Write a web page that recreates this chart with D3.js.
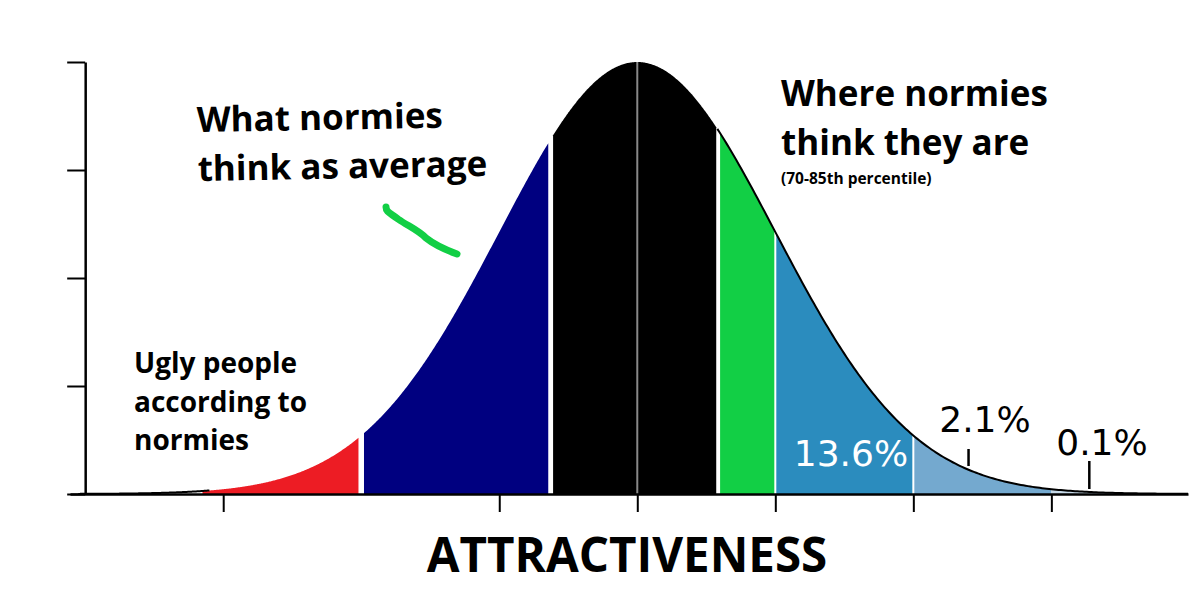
<!DOCTYPE html>
<html><head><meta charset="utf-8">
<script src="https://cdn.jsdelivr.net/npm/d3@7"></script>
<style>body{margin:0;background:#fff}svg{display:block}</style>
</head><body>
<svg id="c" width="1200" height="600"></svg>
<script>
// ---- data ----
const zDomain = [-4.11, 3.99];                 // x in standard deviations
const bandStarts = [-3.15, -1.98, -0.61, 0.60, 1.00, 2.00, 3.00];
const bandEnds   = [-2.02, -0.645, 0.572, 1.00, 2.00, 3.00, 3.6];
const bandNames  = ["ugly","average","normal","think","sd1","sd2","sd3"];
const xTicks = [-3, -1, 0, 1, 2, 3];
const yTicks = [0, 0.25, 0.5, 0.75, 1];
const pctLabels = ["13.6%", "2.1%", "0.1%"];
const pctZ = [1.5, 2.4, 3.275];
const annot1 = ["What normies", "think as average"];
const annot2 = ["Where normies", "think they are"];
const annot2b = "(70-85th percentile)";
const annot3 = ["Ugly people", "according to", "normies"];
const xTitle = "ATTRACTIVENESS";

// ---- styles ----
const bandColors = ["#ed1c24","#000080","#000000","#12cf45","#2b8cbe","#74a9cf","#c6d9e8"];

const svg = d3.select("#c");
const x = d3.scaleLinear().domain(zDomain).range([70, 1188]);
const y = d3.scaleLinear().domain([0, 1]).range([494, 62]);
const dens = z => Math.exp(-z*z/2);

function pts(a, b, n=200){ return d3.range(n+1).map(i => a + (b-a)*i/n); }

const area = d3.area().x(z => x(z)).y0(y(0)).y1(z => y(dens(z)));
const line = d3.line().x(z => x(z)).y(z => y(dens(z)));

// bands
bandStarts.forEach((s, i) => {
  svg.append("path").attr("d", area(pts(s, bandEnds[i])))
    .attr("fill", bandColors[i]);
});
// white separators
[1.0, 2.0].forEach(z => {
  svg.append("line").attr("x1", x(z)).attr("x2", x(z))
    .attr("y1", y(dens(z))).attr("y2", y(0)).attr("stroke", "#fff").attr("stroke-width", 2);
});
// center grey line
svg.append("line").attr("x1", x(0)).attr("x2", x(0)).attr("y1", y(1)).attr("y2", y(0))
  .attr("stroke", "#888").attr("stroke-width", 2);

// curve outline
svg.append("path").attr("d", line(pts(-4.05, -3.1))).attr("fill", "none")
  .attr("stroke", "#000").attr("stroke-width", 2);
svg.append("path").attr("d", line(pts(0.58, 3.99))).attr("fill", "none")
  .attr("stroke", "#000").attr("stroke-width", 2);

// x axis
const xAxis = d3.axisBottom(x).tickValues(xTicks).tickFormat("").tickSize(18).tickSizeOuter(0);
const gx = svg.append("g").attr("transform", `translate(0,${y(0)})`).call(xAxis);
gx.select(".domain").attr("stroke", "#000").attr("stroke-width", 2.5);
gx.selectAll(".tick line").attr("stroke", "#000").attr("stroke-width", 2);

// y axis
const yAxis = d3.axisLeft(y).tickValues(yTicks).tickFormat("").tickSize(18).tickSizeOuter(0);
const gy = svg.append("g").attr("transform", `translate(${x(-4)},0)`).call(yAxis);
gy.select(".domain").attr("stroke", "#000").attr("stroke-width", 2.5);
gy.selectAll(".tick line").attr("stroke", "#000").attr("stroke-width", 2);

// percentage labels
const pctFont = "'DejaVu Sans', sans-serif";
svg.append("text").attr("x", 851).attr("y", 466).attr("text-anchor", "middle")
  .attr("font-family", pctFont).attr("font-size", 36).attr("fill", "#fff").text(pctLabels[0]);
svg.append("text").attr("x", 985).attr("y", 432).attr("text-anchor", "middle")
  .attr("font-family", pctFont).attr("font-size", 36).attr("fill", "#000").text(pctLabels[1]);
svg.append("text").attr("x", 1102).attr("y", 455).attr("text-anchor", "middle")
  .attr("font-family", pctFont).attr("font-size", 36).attr("fill", "#000").text(pctLabels[2]);
// marker lines
svg.append("line").attr("x1", x(pctZ[1])).attr("x2", x(pctZ[1])).attr("y1", 449).attr("y2", 466)
  .attr("stroke", "#000").attr("stroke-width", 2.5);
svg.append("line").attr("x1", x(pctZ[2])).attr("x2", x(pctZ[2])).attr("y1", 461).attr("y2", 489)
  .attr("stroke", "#000").attr("stroke-width", 2.5);

// annotations
const bold = "'Open Sans', 'Noto Sans', sans-serif";
const g1 = svg.append("g").attr("transform", "rotate(-1 197 130)");
annot1.forEach((t, i) => g1.append("text").attr("x", 197).attr("y", 132 + i*49)
  .attr("font-family", bold).attr("font-weight", 700).attr("font-size", 35).attr("fill", "#000").text(t));

annot2.forEach((t, i) => svg.append("text").attr("x", 781).attr("y", 106 + i*49)
  .attr("font-family", bold).attr("font-weight", 700).attr("font-size", 35).attr("fill", "#000").text(t));
svg.append("text").attr("x", 781).attr("y", 184)
  .attr("font-family", bold).attr("font-weight", 700).attr("font-size", 15.5).attr("fill", "#000").text(annot2b);

annot3.forEach((t, i) => svg.append("text").attr("x", 134).attr("y", 373 + i*38.5)
  .attr("font-family", bold).attr("font-weight", 700).attr("font-size", 28).attr("fill", "#000").text(t));

// green squiggle
svg.append("path")
  .attr("d", "M386,207 C386,212 390,213 398,219 C408,226 418,230 426,238 C436,246 446,250 457,254")
  .attr("fill", "none").attr("stroke", "#12cf45").attr("stroke-width", 7)
  .attr("stroke-linecap", "round").attr("stroke-linejoin", "round");

// x title
svg.append("text").attr("x", 627).attr("y", 572).attr("text-anchor", "middle")
  .attr("font-family", bold).attr("font-weight", 700).attr("font-size", 47.5).attr("fill", "#000").text(xTitle);
</script>
</body></html>
